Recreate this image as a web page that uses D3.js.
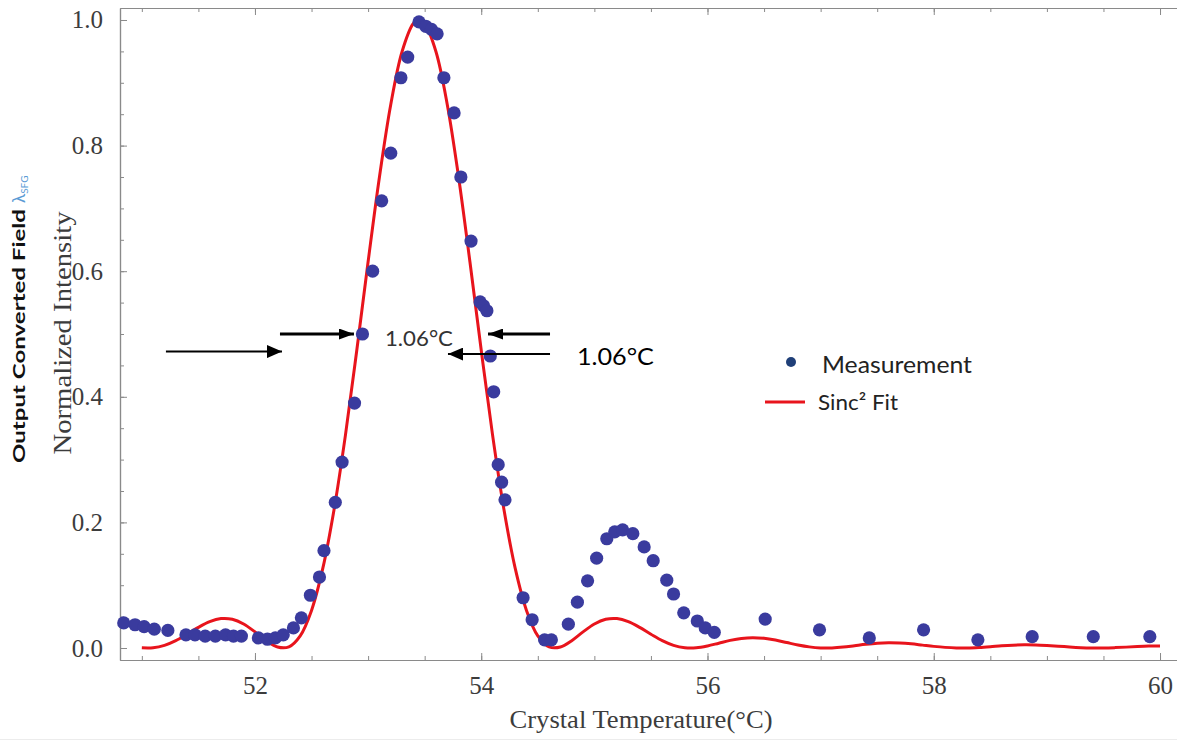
<!DOCTYPE html>
<html>
<head>
<meta charset="utf-8">
<script src="https://cdn.jsdelivr.net/npm/d3@7"></script>
<style>
  html, body { margin: 0; padding: 0; background: #ffffff; }
  svg { display: block; }
</style>
</head>
<body>
<svg id="chart" width="1177" height="743"></svg>
<script>
// Measured SFG output vs crystal temperature (normalized)
const measTemp = [
  50.84, 50.94, 51.02, 51.11, 51.23, 51.39, 51.47, 51.56, 51.65, 51.74, 51.81, 51.88,
  52.03, 52.11, 52.18, 52.25, 52.34, 52.41, 52.49, 52.57, 52.61, 52.71, 52.77, 52.88,
  52.95, 53.04, 53.12, 53.20, 53.29, 53.35, 53.45, 53.51, 53.56, 53.61, 53.67, 53.76,
  53.82, 53.91, 53.99, 54.02, 54.05, 54.08, 54.11, 54.15, 54.18, 54.21, 54.37, 54.45,
  54.56, 54.62, 54.77, 54.85, 54.94, 55.02, 55.11, 55.18, 55.25, 55.34, 55.44, 55.52,
  55.64, 55.70, 55.79, 55.91, 55.98, 56.06, 56.51, 56.99, 57.43, 57.91, 58.39, 58.87,
  59.41, 59.91
];
const measIntensity = [
  0.040, 0.037, 0.034, 0.030, 0.028, 0.021, 0.021, 0.019, 0.019, 0.021, 0.019, 0.019,
  0.016, 0.014, 0.016, 0.021, 0.032, 0.048, 0.084, 0.113, 0.155, 0.232, 0.296, 0.390,
  0.500, 0.600, 0.712, 0.788, 0.908, 0.941, 0.997, 0.990, 0.985, 0.978, 0.908, 0.852,
  0.750, 0.648, 0.551, 0.545, 0.537, 0.465, 0.408, 0.292, 0.264, 0.236, 0.080, 0.045,
  0.013, 0.013, 0.038, 0.073, 0.107, 0.143, 0.174, 0.185, 0.188, 0.182, 0.161, 0.139,
  0.108, 0.086, 0.056, 0.043, 0.032, 0.025, 0.046, 0.029, 0.016, 0.029, 0.013, 0.018,
  0.018, 0.018
];

// Sinc^2 fit curve, sampled every 0.1 °C
const fitTemp = [
  51.0, 51.1, 51.2, 51.3, 51.4, 51.5, 51.6, 51.7, 51.8, 51.9,
  52.0, 52.1, 52.2, 52.3, 52.4, 52.5, 52.6, 52.7, 52.8, 52.9,
  53.0, 53.1, 53.2, 53.3, 53.4, 53.45, 53.5, 53.6, 53.7, 53.8, 53.9,
  54.0, 54.1, 54.2, 54.3, 54.4, 54.5, 54.6, 54.7, 54.8, 54.9,
  55.0, 55.1, 55.2, 55.3, 55.4, 55.5, 55.6, 55.7, 55.8, 55.9,
  56.0, 56.1, 56.2, 56.3, 56.4, 56.5, 56.6, 56.7, 56.8, 56.9,
  57.0, 57.1, 57.2, 57.3, 57.4, 57.5, 57.6, 57.7, 57.8, 57.9,
  58.0, 58.1, 58.2, 58.3, 58.4, 58.5, 58.6, 58.7, 58.8, 58.9,
  59.0, 59.1, 59.2, 59.3, 59.4, 59.5, 59.6, 59.7, 59.8, 59.9, 60.0
];
const fitIntensity = [
  0.0004, 0.0005, 0.0042, 0.0117, 0.0219, 0.0328, 0.0419, 0.0468, 0.0457, 0.0382,
  0.0257, 0.0117, 0.0016, 0.0019, 0.0194, 0.0599, 0.1271, 0.2214, 0.3394, 0.4741,
  0.6150, 0.7497, 0.8652, 0.9494, 0.9943, 1.0000, 0.9943, 0.9494, 0.8652, 0.7497, 0.6150,
  0.4741, 0.3394, 0.2214, 0.1271, 0.0599, 0.0194, 0.0019, 0.0016, 0.0117, 0.0257,
  0.0382, 0.0457, 0.0468, 0.0419, 0.0328, 0.0219, 0.0117, 0.0042, 0.0005, 0.0004,
  0.0033, 0.0077, 0.0121, 0.0153, 0.0165, 0.0154, 0.0126, 0.0087, 0.0048, 0.0018,
  0.0002, 0.0002, 0.0015, 0.0037, 0.0059, 0.0076, 0.0083, 0.0079, 0.0066, 0.0046,
  0.0026, 0.0010, 0.0001, 0.0001, 0.0009, 0.0021, 0.0035, 0.0045, 0.0050, 0.0048,
  0.0040, 0.0029, 0.0016, 0.0006, 0.0001, 0.0001, 0.0006, 0.0014, 0.0023, 0.0030, 0.0033
];

// Axis ticks
const xTickValues = [52, 54, 56, 58, 60];
const yTickValues = [0.0, 0.2, 0.4, 0.6, 0.8, 1.0];
const yTickLabels = ["0.0", "0.2", "0.4", "0.6", "0.8", "1.0"];

// FWHM markers: [fromTemp, toTemp, intensity, heavy]
const fwhmArrows = [
  [51.213, 52.239, 0.472, false],
  [52.221, 52.875, 0.500, true],
  [54.608, 54.060, 0.500, true],
  [54.608, 53.706, 0.468, false]
];
const fwhmText = "1.06°C";

const W = 1177, H = 743;
const frame = { left: 120, right: 1177, top: 8, bottom: 660 };

const svg = d3.select("#chart");
svg.append("rect").attr("width", W).attr("height", H).attr("fill", "#ffffff");
// faint edge of the figure panel
svg.append("line").attr("x1", 0).attr("x2", W).attr("y1", 739.5).attr("y2", 739.5)
  .attr("stroke", "#ececec").attr("stroke-width", 1);

const x = d3.scaleLinear().domain([50.807, 60.150]).range([frame.left, frame.right]);
const y = d3.scaleLinear().domain([-0.0191, 1.0191]).range([frame.bottom, frame.top]);

const frameColor = "#8a8a8a";
const labelColor = "#3c3c3c";
const serif = "'Liberation Serif', 'Times New Roman', serif";
const sans = "Lato, 'Open Sans', 'Liberation Sans', sans-serif";

// Frame axes with inward ticks (left, bottom, top)
const xMinor = d3.range(51, 60.01, 0.5);
const yMinor = d3.range(0, 1.001, 0.05);

function addAxis(gen, transform, labels) {
  const g = svg.append("g").attr("transform", transform).call(gen);
  g.select(".domain").attr("stroke", frameColor).attr("stroke-width", 1.2);
  g.selectAll(".tick line").attr("stroke", frameColor).attr("stroke-width", 1);
  if (!labels) g.selectAll(".tick text").remove();
  return g;
}

// minor ticks
addAxis(d3.axisBottom(x).tickValues(xMinor).tickSize(-4).tickSizeOuter(0).tickFormat(""), `translate(0,${frame.bottom})`, false);
addAxis(d3.axisTop(x).tickValues(xMinor).tickSize(-4).tickSizeOuter(0).tickFormat(""), `translate(0,${frame.top})`, false);
addAxis(d3.axisLeft(y).tickValues(yMinor).tickSize(-4).tickSizeOuter(0).tickFormat(""), `translate(${frame.left},0)`, false);

// major ticks
const xb = addAxis(d3.axisBottom(x).tickValues(xTickValues).tickSize(-7).tickSizeOuter(0).tickPadding(16)
  .tickFormat(d3.format("d")), `translate(0,${frame.bottom})`, true);
xb.selectAll(".tick text").attr("font-family", serif).attr("font-size", 25).attr("fill", labelColor);
addAxis(d3.axisTop(x).tickValues(xTickValues).tickSize(-7).tickSizeOuter(0).tickFormat(""), `translate(0,${frame.top})`, false);

const yl = addAxis(d3.axisLeft(y).tickValues(yTickValues).tickSize(-7).tickSizeOuter(0).tickPadding(17)
  .tickFormat((d, i) => yTickLabels[i]), `translate(${frame.left},0)`, true);
yl.selectAll(".tick text").attr("font-family", serif).attr("font-size", 25).attr("fill", labelColor);

// Axis titles
svg.append("text")
  .attr("x", 641).attr("y", 728)
  .attr("text-anchor", "middle")
  .attr("font-family", serif).attr("font-size", 25).attr("fill", labelColor)
  .attr("textLength", 263).attr("lengthAdjust", "spacingAndGlyphs")
  .text("Crystal Temperature(°C)");

svg.append("text")
  .attr("transform", "translate(71,333) rotate(-90)")
  .attr("text-anchor", "middle")
  .attr("font-family", serif).attr("font-size", 26).attr("fill", labelColor)
  .attr("textLength", 243).attr("lengthAdjust", "spacingAndGlyphs")
  .text("Normalized Intensity");

const outerTitle = svg.append("g").attr("transform", "translate(25,463) rotate(-90)");
outerTitle.append("text")
  .attr("x", 0).attr("y", 0)
  .attr("font-family", sans).attr("font-size", 17).attr("font-weight", "bold").attr("fill", "#111")
  .attr("textLength", 254).attr("lengthAdjust", "spacingAndGlyphs")
  .text("Output Converted Field");
const lam = outerTitle.append("text")
  .attr("x", 260).attr("y", 0)
  .attr("font-family", sans).attr("font-size", 17).attr("fill", "#5b9bd5");
lam.append("tspan").text("λ");
lam.append("tspan").attr("font-size", 10).attr("dy", 3).text("SFG");

// Sinc^2 fit line
const fitPoints = fitTemp.map((t, i) => [t, fitIntensity[i]]);
svg.append("path")
  .datum(fitPoints)
  .attr("fill", "none")
  .attr("stroke", "#e8141c")
  .attr("stroke-width", 3)
  .attr("stroke-linejoin", "round")
  .attr("d", d3.line().x(d => x(d[0])).y(d => y(d[1])).curve(d3.curveCatmullRom));

// Measurement points
const measPoints = measTemp.map((t, i) => [t, measIntensity[i]]);
svg.append("g").selectAll("circle")
  .data(measPoints)
  .join("circle")
  .attr("cx", d => x(d[0]))
  .attr("cy", d => y(d[1]))
  .attr("r", 6.6)
  .attr("fill", "#3a3b9e");

// FWHM arrows
const defs = svg.append("defs");
function arrowMarker(id, len, half) {
  defs.append("marker")
    .attr("id", id)
    .attr("markerUnits", "userSpaceOnUse")
    .attr("viewBox", `0 ${-half} ${len} ${2 * half}`)
    .attr("refX", len).attr("refY", 0)
    .attr("markerWidth", len).attr("markerHeight", 2 * half)
    .attr("orient", "auto")
    .append("path")
    .attr("d", `M0,${-half}L${len},0L0,${half}Z`)
    .attr("fill", "#000");
}
arrowMarker("headThin", 15, 6.5);
arrowMarker("headHeavy", 15, 5.5);

svg.append("g").selectAll("line")
  .data(fwhmArrows)
  .join("line")
  .attr("x1", d => x(d[0]))
  .attr("x2", d => x(d[1]))
  .attr("y1", d => y(d[2]))
  .attr("y2", d => y(d[2]))
  .attr("stroke", "#000")
  .attr("stroke-width", d => d[3] ? 3.2 : 2)
  .attr("marker-end", d => d[3] ? "url(#headHeavy)" : "url(#headThin)");

svg.append("text")
  .attr("x", x(53.149)).attr("y", y(0.495))
  .attr("dominant-baseline", "central")
  .attr("font-family", sans).attr("font-size", 21).attr("fill", "#333")
  .attr("textLength", 68).attr("lengthAdjust", "spacingAndGlyphs")
  .text(fwhmText);

svg.append("text")
  .attr("x", x(54.846)).attr("y", y(0.465))
  .attr("dominant-baseline", "central")
  .attr("font-family", sans).attr("font-size", 23).attr("fill", "#000")
  .attr("textLength", 77).attr("lengthAdjust", "spacingAndGlyphs")
  .text(fwhmText);

// Legend
const legend = svg.append("g");
legend.append("circle").attr("cx", 791).attr("cy", 362).attr("r", 5).attr("fill", "#1f3f78");
legend.append("text").attr("x", 822).attr("y", 364)
  .attr("dominant-baseline", "central")
  .attr("font-family", sans).attr("font-size", 23).attr("fill", "#222")
  .attr("textLength", 150).attr("lengthAdjust", "spacingAndGlyphs")
  .text("Measurement");
legend.append("line").attr("x1", 765).attr("x2", 805).attr("y1", 402).attr("y2", 402)
  .attr("stroke", "#e8141c").attr("stroke-width", 3);
legend.append("text").attr("x", 818).attr("y", 401)
  .attr("dominant-baseline", "central")
  .attr("font-family", sans).attr("font-size", 22).attr("fill", "#222")
  .attr("textLength", 80).attr("lengthAdjust", "spacingAndGlyphs")
  .text("Sinc² Fit");
</script>
</body>
</html>
